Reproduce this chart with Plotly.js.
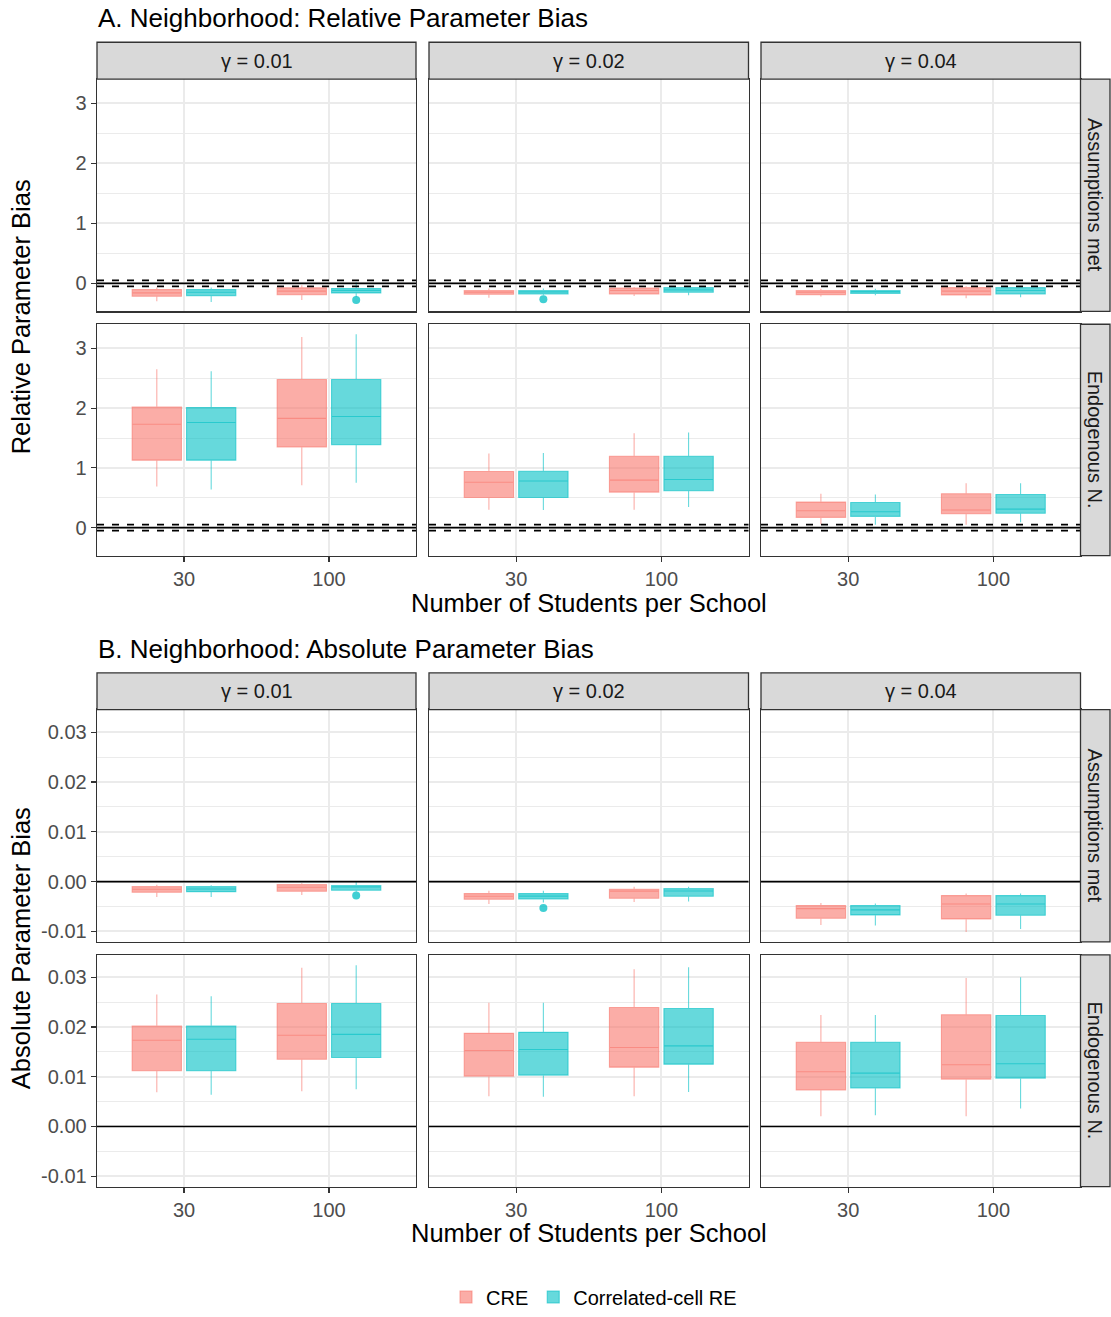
<!DOCTYPE html>
<html>
<head>
<meta charset="utf-8">
<script src="https://cdn.plot.ly/plotly-3.0.1.min.js"></script>
<style>html,body{margin:0;padding:0;background:#fff;}</style>
</head>
<body>
<div id="chart" style="width:1111px;height:1317px;"></div>
<script>
// ---------- DATA ----------
const sectionTitles = ['A. Neighborhood: Relative Parameter Bias', 'B. Neighborhood: Absolute Parameter Bias'];
const yAxisTitles = ['Relative Parameter Bias', 'Absolute Parameter Bias'];
const xAxisTitle = 'Number of Students per School';
const gammaLabels = ['γ = 0.01', 'γ = 0.02', 'γ = 0.04'];
const conditionLabels = ['Assumptions met', 'Endogenous N.'];
const studentsPerSchool = ['30', '100'];
const seriesNames = ['CRE', 'Correlated-cell RE'];

// order of 12 values: [condition][gamma][students]  (Assumptions met: g.01 n30, n100, g.02 n30, n100, g.04 n30, n100; then Endogenous N.)
const relCRE_lo  = [-0.30, -0.28, -0.24, -0.21, -0.22, -0.25, 0.69, 0.71, 0.30, 0.30, 0.055, 0.05];
const relCRE_q1  = [-0.215, -0.19, -0.183, -0.177, -0.188, -0.193, 1.13, 1.35, 0.505, 0.595, 0.172, 0.233];
const relCRE_med = [-0.16, -0.13, -0.15, -0.12, -0.15, -0.13, 1.73, 1.83, 0.76, 0.795, 0.283, 0.295];
const relCRE_q3  = [-0.105, -0.075, -0.122, -0.077, -0.122, -0.072, 2.02, 2.48, 0.94, 1.195, 0.428, 0.567];
const relCRE_hi  = [-0.07, -0.03, -0.088, -0.06, -0.09, -0.05, 2.65, 3.19, 1.24, 1.58, 0.567, 0.745];

const relCC_lo  = [-0.31, -0.23, -0.20, -0.20, -0.20, -0.233, 0.64, 0.75, 0.295, 0.345, 0.05, 0.09];
const relCC_q1  = [-0.205, -0.16, -0.177, -0.15, -0.167, -0.177, 1.13, 1.39, 0.505, 0.617, 0.189, 0.24];
const relCC_med = [-0.15, -0.12, -0.145, -0.11, -0.14, -0.12, 1.76, 1.86, 0.78, 0.805, 0.267, 0.31];
const relCC_q3  = [-0.105, -0.088, -0.122, -0.072, -0.122, -0.072, 2.01, 2.48, 0.945, 1.195, 0.422, 0.555];
const relCC_hi  = [-0.07, 0.02, -0.088, -0.05, -0.09, -0.05, 2.62, 3.24, 1.25, 1.595, 0.555, 0.745];

const absCRE_lo  = [-0.0031, -0.0027, -0.0045, -0.0041, -0.0087, -0.0101, 0.00687, 0.00707, 0.00607, 0.00607, 0.00207, 0.00207];
const absCRE_q1  = [-0.00213, -0.00193, -0.00353, -0.00333, -0.00733, -0.00747, 0.0112, 0.01353, 0.01013, 0.01193, 0.00733, 0.00953];
const absCRE_med = [-0.00153, -0.00113, -0.00293, -0.0019, -0.0054, -0.00447, 0.01733, 0.01833, 0.01527, 0.01587, 0.011, 0.0124];
const absCRE_q3  = [-0.001, -0.0006, -0.0024, -0.00153, -0.0048, -0.0028, 0.0202, 0.02473, 0.01873, 0.02393, 0.01693, 0.02247];
const absCRE_hi  = [-0.0006, -0.00033, -0.0018, -0.001, -0.0043, -0.0024, 0.02653, 0.03193, 0.02487, 0.0316, 0.0224, 0.02987];

const absCC_lo  = [-0.0031, -0.002, -0.0042, -0.004, -0.0088, -0.0095, 0.0064, 0.00747, 0.006, 0.00693, 0.00227, 0.0036];
const absCC_q1  = [-0.002, -0.00173, -0.00347, -0.00293, -0.00667, -0.00673, 0.0112, 0.01387, 0.01033, 0.01253, 0.00773, 0.00973];
const absCC_med = [-0.00147, -0.00107, -0.0029, -0.00187, -0.00567, -0.00447, 0.01753, 0.01853, 0.01547, 0.0162, 0.01073, 0.0126];
const absCC_q3  = [-0.001, -0.0008, -0.0024, -0.0014, -0.0048, -0.0028, 0.0202, 0.02473, 0.01893, 0.02373, 0.01693, 0.02233];
const absCC_hi  = [-0.00073, 0.00007, -0.0018, -0.001, -0.0044, -0.0024, 0.0262, 0.0324, 0.0249, 0.032, 0.0224, 0.03];

// outliers of Correlated-cell RE (index into the 12-value order above)
const relCC_outIdx = [1, 2];
const relCC_outVal = [-0.277, -0.267];
const absCC_outIdx = [1, 2];
const absCC_outVal = [-0.0028, -0.0053];

// y-axis ticks
const relTicks = [0, 1, 2, 3];
const relTickText = ['0', '1', '2', '3'];
const relMinor = [-0.5, 0.5, 1.5, 2.5];
const absTicks = [-0.01, 0, 0.01, 0.02, 0.03];
const absTickText = ['-0.01', '0.00', '0.01', '0.02', '0.03'];
const absMinor = [-0.005, 0.005, 0.015, 0.025];
const relRefLines = [0, -0.05, 0.05];
const absRefLines = [0];

// ---------- LAYOUT / BUILD ----------
const W = 1111, H = 1317;
const px = x => x / W;
const py = y => 1 - y / H;
const FONT = 'Liberation Sans, Arial, sans-serif';
const colsX = [[97, 416], [429, 748.5], [761, 1080.5]];
const rowsY = [[[79.5, 313], [326, 558.5]], [[713.5, 947], [960, 1193]]];
const stripTop = [[42.5, 79.5], [676.5, 713.5]];
const stripRight = [1080.5, 1110];
const yRanges = [[-0.467, 3.405], [-0.0121, 0.0345]];

const lineCols = ['rgba(248,118,109,0.6)', 'rgba(0,191,196,0.6)'];
const fillCols = ['rgba(248,118,109,0.6)', 'rgba(0,191,196,0.6)'];
const dodge = [-0.1875, 0.1875];
const boxW = 0.34;

const stats = [
  [[relCRE_lo, relCRE_q1, relCRE_med, relCRE_q3, relCRE_hi], [relCC_lo, relCC_q1, relCC_med, relCC_q3, relCC_hi]],
  [[absCRE_lo, absCRE_q1, absCRE_med, absCRE_q3, absCRE_hi], [absCC_lo, absCC_q1, absCC_med, absCC_q3, absCC_hi]]
];
const outliers = [[relCC_outIdx, relCC_outVal], [absCC_outIdx, absCC_outVal]];

const traces = [];
const layout = {
  width: W, height: H,
  margin: {l: 0, r: 0, t: 0, b: 0},
  paper_bgcolor: '#ffffff', plot_bgcolor: '#ffffff',
  font: {family: FONT, color: '#000000'},
  showlegend: true,
  legend: {orientation: 'h', x: px(594), xanchor: 'center', y: py(1304), yanchor: 'middle',
           font: {family: FONT, size: 20, color: '#000000'}, itemwidth: 30, traceorder: 'normal'},
  shapes: [], annotations: []
};

const catPos = [1, 2];

for (let s = 0; s < 2; s++) {
  for (let r = 0; r < 2; r++) {
    for (let c = 0; c < 3; c++) {
      const k = s * 6 + r * 3 + c + 1;
      const xa = k === 1 ? 'x' : 'x' + k;
      const ya = k === 1 ? 'y' : 'y' + k;
      const xKey = k === 1 ? 'xaxis' : 'xaxis' + k;
      const yKey = k === 1 ? 'yaxis' : 'yaxis' + k;
      const bottom = r === 1, left = c === 0;
      layout[xKey] = {
        domain: [px(colsX[c][0]), px(colsX[c][1])], anchor: ya,
        range: [0.4, 2.6], tickmode: 'array', tickvals: catPos, ticktext: studentsPerSchool,
        showticklabels: bottom, ticks: bottom ? 'outside' : '', ticklen: 5, tickwidth: 1.1, tickcolor: '#333333',
        tickfont: {family: FONT, size: 20, color: '#4D4D4D'},
        showgrid: true, gridcolor: '#EBEBEB', gridwidth: 2,
        zeroline: false, showline: true, mirror: true, linecolor: '#333333', linewidth: 1.3,
        fixedrange: true
      };
      layout[yKey] = {
        domain: [py(rowsY[s][r][1]), py(rowsY[s][r][0])], anchor: xa,
        range: yRanges[s], tickmode: 'array',
        tickvals: s === 0 ? relTicks : absTicks, ticktext: s === 0 ? relTickText : absTickText,
        showticklabels: left, ticks: left ? 'outside' : '', ticklen: 5, tickwidth: 1.1, tickcolor: '#333333',
        tickfont: {family: FONT, size: 20, color: '#4D4D4D'},
        showgrid: true, gridcolor: '#EBEBEB', gridwidth: 2,
        minor: {tickmode: 'array', tickvals: s === 0 ? relMinor : absMinor, showgrid: true, gridcolor: '#EBEBEB', gridwidth: 1, ticks: ''},
        zeroline: false, showline: true, mirror: true, linecolor: '#333333', linewidth: 1.3,
        fixedrange: true
      };
      // boxes
      for (let j = 0; j < 2; j++) {
        const st = stats[s][j];
        const i0 = r * 6 + c * 2;
        const pick = a => [a[i0], a[i0 + 1]];
        traces.push({
          type: 'box', orientation: 'v', xaxis: xa, yaxis: ya,
          x: catPos.map(p => p + dodge[j]),
          lowerfence: pick(st[0]), q1: pick(st[1]), median: pick(st[2]), q3: pick(st[3]), upperfence: pick(st[4]),
          width: boxW, whiskerwidth: 0, boxpoints: false,
          fillcolor: fillCols[j], line: {color: lineCols[j], width: 1.1},
          name: seriesNames[j], legendgroup: seriesNames[j], showlegend: k === 1,
          hoverinfo: 'skip'
        });
      }
      // outliers (Correlated-cell RE)
      const [oIdx, oVal] = outliers[s];
      const ox = [], oy = [];
      oIdx.forEach((idx, m) => {
        const rr = Math.floor(idx / 6), cc = Math.floor((idx % 6) / 2), nn = idx % 2;
        if (rr === r && cc === c) { ox.push(catPos[nn] + dodge[1]); oy.push(oVal[m]); }
      });
      if (ox.length) {
        traces.push({type: 'scatter', mode: 'markers', xaxis: xa, yaxis: ya, x: ox, y: oy,
          marker: {size: 8, color: 'rgba(0,191,196,0.75)', line: {width: 0}},
          showlegend: false, hoverinfo: 'skip'});
      }
      // reference lines
      const refs = s === 0 ? relRefLines : absRefLines;
      refs.forEach(v => {
        layout.shapes.push({type: 'line', xref: xa + ' domain', yref: ya, x0: 0, x1: 1, y0: v, y1: v,
          line: {color: '#000000', width: 1.6, dash: v === 0 ? 'solid' : '7px,8px'}, layer: 'above'});
      });
      // top strip
      if (r === 0) {
        layout.shapes.push({type: 'rect', xref: 'paper', yref: 'paper',
          x0: px(colsX[c][0]), x1: px(colsX[c][1]), y0: py(stripTop[s][1]), y1: py(stripTop[s][0]),
          fillcolor: '#D9D9D9', line: {color: '#333333', width: 1.3}, layer: 'above'});
        layout.annotations.push({xref: 'paper', yref: 'paper', x: px((colsX[c][0] + colsX[c][1]) / 2),
          y: py((stripTop[s][0] + stripTop[s][1]) / 2), text: gammaLabels[c], showarrow: false,
          xanchor: 'center', yanchor: 'middle', font: {family: FONT, size: 20, color: '#1A1A1A'}});
      }
      // right strip
      if (c === 2) {
        layout.shapes.push({type: 'rect', xref: 'paper', yref: 'paper',
          x0: px(stripRight[0]), x1: px(stripRight[1]), y0: py(rowsY[s][r][1]), y1: py(rowsY[s][r][0]),
          fillcolor: '#D9D9D9', line: {color: '#333333', width: 1.3}, layer: 'above'});
        layout.annotations.push({xref: 'paper', yref: 'paper', x: px((stripRight[0] + stripRight[1]) / 2),
          y: py((rowsY[s][r][0] + rowsY[s][r][1]) / 2), text: conditionLabels[r], showarrow: false,
          textangle: 90, xanchor: 'center', yanchor: 'middle', font: {family: FONT, size: 20, color: '#1A1A1A'}});
      }
    }
  }
  // section title
  const titleY = s === 0 ? 18 : 652;
  layout.annotations.push({xref: 'paper', yref: 'paper', x: px(96), y: py(titleY), text: sectionTitles[s],
    showarrow: false, xanchor: 'left', yanchor: 'middle', font: {family: FONT, size: 26, color: '#000000'}});
  // y axis title
  layout.annotations.push({xref: 'paper', yref: 'paper', x: px(21), y: py((rowsY[s][0][0] + rowsY[s][1][1]) / 2),
    text: yAxisTitles[s], showarrow: false, textangle: -90, xanchor: 'center', yanchor: 'middle',
    font: {family: FONT, size: 25.5, color: '#000000'}});
  // x axis title
  layout.annotations.push({xref: 'paper', yref: 'paper', x: px((colsX[0][0] + colsX[2][1]) / 2),
    y: py(s === 0 ? 606 : 1240), text: xAxisTitle, showarrow: false, xanchor: 'center', yanchor: 'middle',
    font: {family: FONT, size: 25.5, color: '#000000'}});
}

Plotly.newPlot('chart', traces, layout, {displayModeBar: false, staticPlot: true});
</script>
</body>
</html>
